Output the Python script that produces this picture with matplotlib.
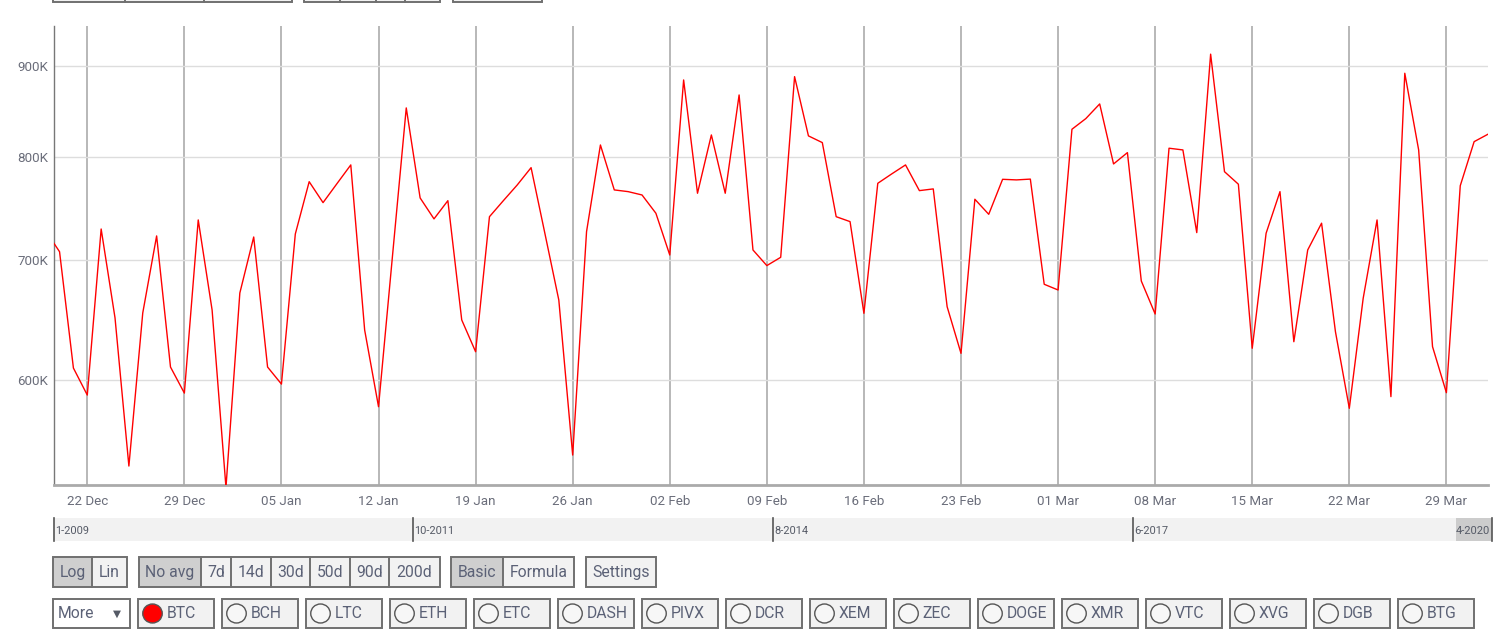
import matplotlib
matplotlib.use("Agg")
import matplotlib.pyplot as plt
import matplotlib.dates as mdates
from matplotlib.patches import Rectangle, Ellipse
from matplotlib.ticker import FixedLocator, NullLocator, FixedFormatter
import datetime as dt
import numpy as np

# ---------------- data ----------------
start_date = dt.datetime(2019, 12, 19)
values_k = [
    727.3, 708.0, 609.1, 588.2, 729.1, 649.9, 536.6, 654.1, 722.6, 609.9,
    589.7, 737.7, 656.6, 522.0, 671.2, 721.6, 609.9, 596.6, 724.4, 775.1,
    754.4, 773.1, 792.1, 639.8, 579.4, 703.2, 852.7, 759.0, 738.7, 756.3,
    648.2, 622.1, 740.8, 756.3, 771.8, 789.3, 724.7, 665.1, 544.3, 726.6,
    812.8, 766.9, 765.2, 761.9, 744.1, 705.0, 884.1, 763.6, 823.4, 763.6,
    867.1, 709.6, 695.4, 702.9, 887.9, 822.4, 815.3, 740.8, 736.1, 653.8,
    773.5, 782.9, 792.1, 766.2, 767.9, 659.4, 620.8, 757.7, 743.1, 777.5,
    776.9, 777.7, 678.8, 673.8, 829.5, 841.0, 857.1, 793.1, 804.8, 681.7,
    653.2, 809.4, 807.6, 725.7, 914.1, 785.2, 772.6, 624.9, 725.1, 765.2,
    630.2, 709.6, 734.6, 638.4, 578.2, 666.6, 737.7, 587.0, 891.8, 807.6,
    626.2, 590.0, 771.1, 816.3, 824.2,
]
dates = [start_date + dt.timedelta(days=i) for i in range(len(values_k))]
values = [v * 1000 for v in values_k]

y_ticks = [600000, 700000, 800000, 900000]
y_tick_labels = ["600K", "700K", "800K", "900K"]

range_labels = ["1-2009", "10-2011", "8-2014", "6-2017"]
range_last_label = "4-2020"

group1 = ["Log", "Lin"]
group2 = ["No avg", "7d", "14d", "30d", "50d", "90d", "200d"]
group3 = ["Basic", "Formula"]
group4 = ["Settings"]
coins = ["BTC", "BCH", "LTC", "ETH", "ETC", "DASH", "PIVX", "DCR", "XEM",
         "ZEC", "DOGE", "XMR", "VTC", "XVG", "DGB", "BTG"]

# ---------------- figure ----------------
W, H = 1512, 634
fig = plt.figure(figsize=(W / 100, H / 100), dpi=100)
fig.patch.set_facecolor("white")

FONT = ["Roboto", "DejaVu Sans"]
TXT = "#5b6176"

L, R, T, B = 54, 1488, 26, 485
ax = fig.add_axes([L / W, 1 - B / H, (R - L) / W, (B - T) / H])
ax.plot(dates, values, color="#ff0000", lw=1.0, zorder=3, clip_on=True)
ax.set_yscale("log")
ax.set_ylim(523600, 948000)
ax.set_xlim(dt.datetime(2019, 12, 19, 14, 24), dt.datetime(2020, 4, 1, 0, 0))

ax.yaxis.set_major_locator(FixedLocator(y_ticks))
ax.yaxis.set_major_formatter(FixedFormatter(y_tick_labels))
ax.yaxis.set_minor_locator(NullLocator())
ax.xaxis.set_major_locator(mdates.WeekdayLocator(byweekday=mdates.SU))
ax.xaxis.set_major_formatter(mdates.DateFormatter("%d %b"))
ax.xaxis.set_minor_locator(NullLocator())

ax.grid(axis="x", color="#b2b2b2", lw=1.3, zorder=1)
ax.grid(axis="y", color="#dddddd", lw=1.0, zorder=1)
ax.set_axisbelow(True)
ax.tick_params(axis="both", length=0, labelsize=9.6, labelcolor="#6a6d7a")
ax.tick_params(axis="x", pad=7.5)
ax.tick_params(axis="y", pad=4)
for lab in ax.get_xticklabels() + ax.get_yticklabels():
    lab.set_family(FONT)
for s in ["top", "right"]:
    ax.spines[s].set_visible(False)
ax.spines["left"].set_color("#777777")
ax.spines["left"].set_linewidth(1.0)
ax.spines["bottom"].set_color("#aaaaaa")
ax.spines["bottom"].set_linewidth(2.0)

# ---------------- UI overlay ----------------
ui = fig.add_axes([0, 0, 1, 1], zorder=5)
ui.set_xlim(0, W)
ui.set_ylim(H, 0)
ui.axis("off")
ui.patch.set_alpha(0)

EDGE = "#707070"

def box(x0, x1, y0, y1, fc, ec=EDGE, lw=1.4):
    ui.add_patch(Rectangle((x0, y0), x1 - x0, y1 - y0, fc=fc, ec=ec, lw=lw))

# partially visible top controls
for x0, x1, divs in [(53, 292, [125, 204]), (304, 440, [340, 376, 405]), (453, 542, [])]:
    box(x0, x1, -30, 1.5, "#f2f2f2")
    for d in divs:
        ui.plot([d, d], [-5, 1.5], color=EDGE, lw=1.4)

# range bar
ui.add_patch(Rectangle((54, 518), 1492 - 54, 23, fc="#f2f2f2", ec="none"))
ui.add_patch(Rectangle((1456, 518), 1492 - 1456, 23, fc="#cccccc", ec="none"))
ui.plot([1492, 1492], [518, 541], color="#555555", lw=1.2)
for x, lab in zip([54, 413, 773, 1133], range_labels):
    ui.plot([x, x], [518, 541], color="#555555", lw=1.2)
    ui.text(x + 1.5, 531, lab, fontsize=7.9, color="#555a66", va="center", ha="left", family=FONT)
ui.text(1490, 531, range_last_label, fontsize=7.9, color="#555a66", va="center", ha="right", family=FONT)

# button row 1
BTN_FS = 11.3
def group(xs, labels, sel, y0=557, y1=587):
    for i, lab in enumerate(labels):
        fc = "#cfcfcf" if i == sel else "#f2f2f2"
        ui.add_patch(Rectangle((xs[i], y0), xs[i + 1] - xs[i], y1 - y0, fc=fc, ec="none"))
        ui.text((xs[i] + xs[i + 1]) / 2, (y0 + y1) / 2 + 0.5, lab, fontsize=BTN_FS, color=TXT,
                ha="center", va="center", family=FONT)
    for d in xs[1:-1]:
        ui.plot([d, d], [y0, y1], color=EDGE, lw=1.4)
    ui.add_patch(Rectangle((xs[0], y0), xs[-1] - xs[0], y1 - y0, fc="none", ec=EDGE, lw=1.4))

group([53, 92, 127], group1, 0)
group([139, 201, 231, 271, 310, 350, 389, 440], group2, 0)
group([451, 503, 574], group3, 0)
group([586, 656], group4, -1)

# button row 2
y0, y1 = 599, 628
yc = (y0 + y1) / 2
box(53, 130, y0, y1, "white")
ui.text(58, yc + 0.5, "More", fontsize=BTN_FS, color=TXT, ha="left", va="center", family=FONT)
ui.text(117, yc, "\u25BC", fontsize=7.5, color="#555a66", ha="center", va="center", family=["DejaVu Sans"])
for i, c in enumerate(coins):
    x0 = 138 + 84 * i
    box(x0, x0 + 76, y0, y1, "#f2f2f2")
    fc = "#ff0000" if i == 0 else "#f7f7f7"
    ui.add_patch(Ellipse((x0 + 14.5, yc), 19.5, 19, fc=fc, ec="#555555", lw=1.0))
    ui.text(x0 + 28.5, yc + 0.5, c, fontsize=BTN_FS, color=TXT, ha="left", va="center", family=FONT)

fig.savefig("out.png", dpi=100, facecolor="white")
